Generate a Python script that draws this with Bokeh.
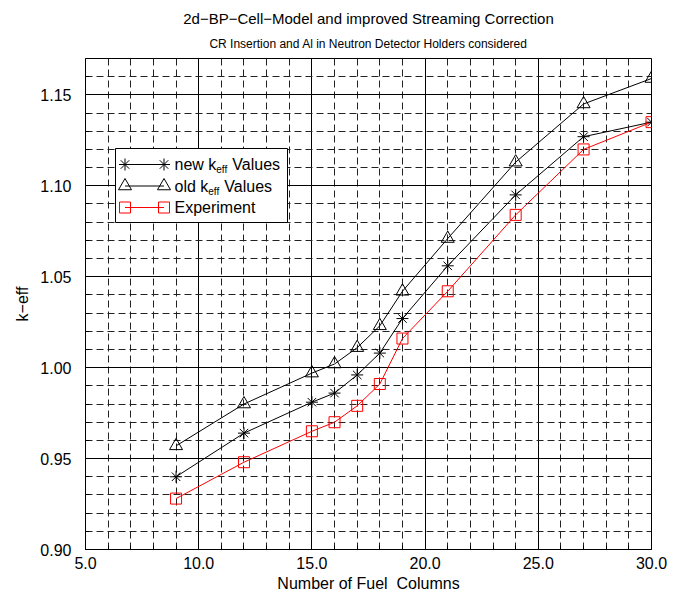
from bokeh.plotting import figure
from bokeh.models import Range1d, SingleIntervalTicker, NumeralTickFormatter, Title
from bokeh.core.properties import value
from bokeh.embed import file_html
from bokeh.resources import INLINE

# ---- data ----
fuel_columns = [9, 12, 15, 16, 17, 18, 19, 21, 24, 27, 30]
keff_new = [0.940, 0.964, 0.981, 0.986, 0.996, 1.008, 1.027, 1.056, 1.095, 1.127, 1.135]
keff_old = [0.957, 0.980, 0.997, 1.002, 1.011, 1.023, 1.042, 1.071, 1.113, 1.145, 1.159]
keff_exp = [0.928, 0.948, 0.965, 0.970, 0.979, 0.991, 1.016, 1.042, 1.084, 1.120, 1.135]
series_names = ["new k", "old k", "Experiment"]

FONT = "Liberation Sans"
X0, X1, Y0, Y1 = 5.0, 30.0, 0.90, 1.17
W, H = 674, 595
FL, FR, FT, FB = 85, 651, 58, 549  # frame edges in px


def dx(px):
    return X0 + (px - FL) * (X1 - X0) / (FR - FL)


def dy(py):
    return Y0 + (FB - py) * (Y1 - Y0) / (FB - FT)


p = figure(width=W, height=H, output_backend="svg", toolbar_location=None, title=None,
           x_range=Range1d(X0, X1), y_range=Range1d(Y0, Y1),
           min_border_left=FL, min_border_right=W - FR, min_border_top=FT, min_border_bottom=H - FB,
           background_fill_color="white", border_fill_color="white")

p.add_layout(Title(text="CR Insertion and Al in Neutron Detector Holders considered", align="center",
                   text_font=FONT, text_font_size="12px", text_font_style="normal",
                   text_color="black", standoff=15), "above")
p.add_layout(Title(text="2d\u2212BP\u2212Cell\u2212Model and improved Streaming Correction", align="center",
                   text_font=FONT, text_font_size="15px", text_font_style="normal",
                   text_color="black", standoff=1), "above")

xt = SingleIntervalTicker(interval=5, num_minor_ticks=5)
yt = SingleIntervalTicker(interval=0.05, num_minor_ticks=5)
p.xaxis.ticker = xt
p.yaxis.ticker = yt
p.xgrid.ticker = xt
p.ygrid.ticker = yt
p.xaxis.formatter = NumeralTickFormatter(format="0.0")
p.yaxis.formatter = NumeralTickFormatter(format="0.00")
p.xaxis.axis_label = "Number of Fuel\u00a0 Columns"
p.yaxis.axis_label = "k\u2212eff"

for ax in (p.xaxis, p.yaxis):
    ax.major_tick_in = 8
    ax.major_tick_out = 0
    ax.minor_tick_in = 4
    ax.minor_tick_out = 0
    ax.axis_line_color = "black"
    ax.major_tick_line_color = "black"
    ax.minor_tick_line_color = "black"
    ax.major_label_text_font = FONT
    ax.major_label_text_font_size = "16px"
    ax.major_label_text_color = "black"
    ax.axis_label_text_font = FONT
    ax.axis_label_text_font_size = "16px"
    ax.axis_label_text_font_style = "normal"
    ax.axis_label_text_color = "black"

p.xaxis.major_label_standoff = 7
p.xaxis.axis_label_standoff = 3
p.yaxis.major_label_standoff = 14
p.yaxis.axis_label_standoff = 6

for g in (p.xgrid, p.ygrid):
    g.grid_line_color = "black"
    g.grid_line_width = 1
    g.grid_line_alpha = 1.0
    g.minor_grid_line_color = "#222222"
    g.minor_grid_line_dash = "7 4"
    g.minor_grid_line_width = 1

p.outline_line_color = "black"
p.outline_line_width = 1
p.outline_line_alpha = 1

# ---- data lines ----
p.line(fuel_columns, keff_new, line_color="black", line_width=1)
p.line(fuel_columns, keff_old, line_color="black", line_width=1)
p.line(fuel_columns, keff_exp, line_color="red", line_width=1)
p.scatter(fuel_columns, keff_new, marker="asterisk", size=12, line_color="black", line_width=1)
p.scatter(fuel_columns, keff_old, marker="triangle", size=13, line_color="black", fill_color=None, line_width=1)
p.scatter(fuel_columns, keff_exp, marker="square", size=11, line_color="red", fill_color=None, line_width=1)

# ---- legend (manual, to allow the subscript) ----
p.quad(left=[dx(115)], right=[dx(287)], top=[dy(148)], bottom=[dy(222)],
       fill_color="white", line_color="black", line_width=1)
rows = [dy(164), dy(185.5), dy(207)]
sx = [dx(124.5), dx(163.5)]
styles = [("asterisk", "black", 12), ("triangle", "black", 13), ("square", "red", 11)]
for (mk, col, sz), ry in zip(styles, rows):
    p.line(sx, [ry, ry], line_color=col, line_width=1)
    p.scatter(sx, [ry, ry], marker=mk, size=sz, line_color=col, fill_color=None, line_width=1)

# approximate advance widths (em) of Liberation Sans glyphs used in the legend
EM = {"n": .556, "e": .556, "w": .722, " ": .278, "k": .5, "o": .556, "l": .222, "d": .556}

tx = dx(174)
for name, ry in zip(series_names, rows):
    p.text(x=[tx], y=[ry], text=[name], text_font=value(FONT), text_font_size="16px",
           text_baseline="middle", text_align="left", text_color="black")
    if name.endswith(" k"):
        w = sum(EM[c] for c in name) * 16
        p.text(x=[tx], y=[ry], text=["eff"], text_font=value(FONT), text_font_size="10px",
               text_baseline="middle", text_align="left", text_color="black",
               x_offset=w, y_offset=5)
        p.text(x=[tx], y=[ry], text=["Values"], text_font=value(FONT), text_font_size="16px",
               text_baseline="middle", text_align="left", text_color="black",
               x_offset=w + 16)

open("out.html", "w").write(file_html(p, INLINE))
